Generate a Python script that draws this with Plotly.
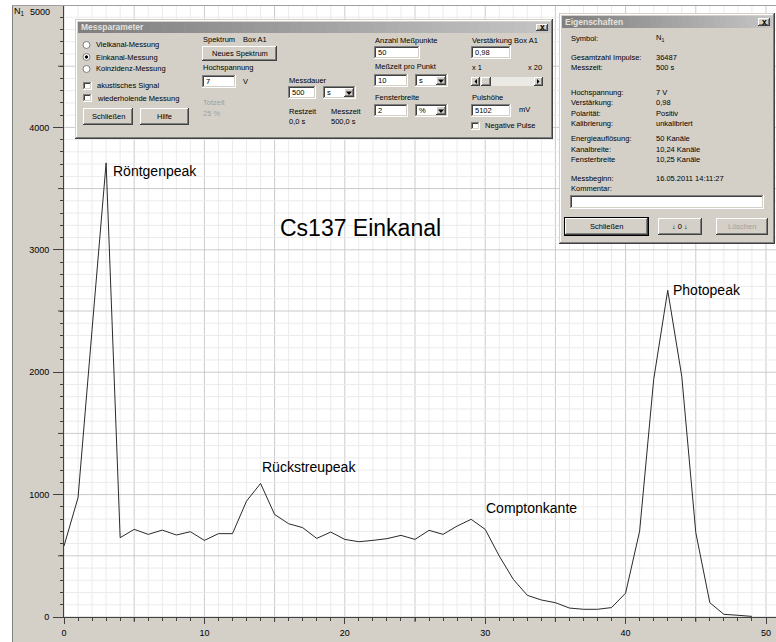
import plotly.graph_objects as go

# ---- measured spectrum (single-channel scan, Cs-137) ----
channel = list(range(50))
counts = [580, 975, 2350, 3710, 648, 716, 675, 710, 670, 697,
          626, 681, 681, 947, 1091, 838, 762, 730, 642, 694,
          634, 615, 626, 640, 667, 634, 708, 675, 743, 798,
          716, 498, 308, 177, 139, 117, 73, 63, 63, 77,
          195, 702, 1940, 2669, 1967, 689, 117, 22, 14, 5]

peak_names = ["Röntgenpeak", "Rückstreupeak", "Comptonkante", "Photopeak"]
peak_channel = [3, 14, 29, 43]
peak_shift = [(6, -8), (0, 16), (14, 11), (4, 0)]

x_labels = list(range(0, 51, 10))
x_mid_ticks = list(range(5, 51, 10))
y_labels = list(range(0, 5000, 1000))
y_mid_ticks = list(range(500, 5001, 1000))
x_grid = list(range(0, 51))
y_grid = list(range(0, 5001, 100))

title_text = "Cs137 Einkanal"

W, H = 776, 642
L, T, PW, PH = 64, 5, 712, 612
UI = "Liberation Sans Narrow, Arial Narrow, Liberation Sans, sans-serif"
FACE = "#d4d0c8"
DS = 7.5  # dialog font size

shapes = []
annotations = []


def fx(x):
    return (x - L) / PW


def fy(y):
    return (T + PH - y) / PH


def R(x0, y0, x1, y1, color):
    shapes.append(dict(type="rect", xref="paper", yref="paper",
                       x0=fx(x0), x1=fx(x1), y0=fy(y1), y1=fy(y0),
                       fillcolor=color, line=dict(width=0), layer="above"))


def tri(pts, color="#000000"):
    d = "M " + " L ".join(f"{fx(a):.5f},{fy(b):.5f}" for a, b in pts) + " Z"
    shapes.append(dict(type="path", xref="paper", yref="paper", path=d,
                       fillcolor=color, line=dict(width=0), layer="above"))


def circ(x0, y0, x1, y1, fill, line="#808080"):
    shapes.append(dict(type="circle", xref="paper", yref="paper",
                       x0=fx(x0), x1=fx(x1), y0=fy(y1), y1=fy(y0),
                       fillcolor=fill, line=dict(width=1, color=line), layer="above"))


def txt(x, y, s, size=DS, color="#000000", anchor="left", bold=False):
    if bold:
        s = "<b>" + s + "</b>"
    annotations.append(dict(x=fx(x), y=fy(y), xref="paper", yref="paper", text=s,
                            showarrow=False, xanchor=anchor, yanchor="middle",
                            borderpad=0, font=dict(family=UI, size=size, color=color)))


def raised(x0, y0, x1, y1, fill=FACE):
    R(x0, y0, x1, y1, "#404040")
    R(x0, y0, x1 - 1, y1 - 1, "#ffffff")
    R(x0 + 1, y0 + 1, x1 - 1, y1 - 1, "#808080")
    R(x0 + 1, y0 + 1, x1 - 2, y1 - 2, fill)


def sunken(x0, y0, x1, y1, fill="#ffffff"):
    R(x0, y0, x1, y1, "#ffffff")
    R(x0, y0, x1 - 1, y1 - 1, "#808080")
    R(x0 + 1, y0 + 1, x1 - 1, y1 - 1, FACE)
    R(x0 + 1, y0 + 1, x1 - 2, y1 - 2, "#404040")
    R(x0 + 2, y0 + 2, x1 - 2, y1 - 2, fill)


def button(x0, y0, x1, y1, label, color="#000000", default=False):
    if default:
        R(x0 - 1, y0 - 1, x1 + 1, y1 + 1, "#000000")
    raised(x0, y0, x1, y1)
    txt((x0 + x1) / 2, (y0 + y1) / 2, label, color=color, anchor="center")


def textbox(x0, y0, x1, y1, value=""):
    sunken(x0, y0, x1, y1)
    if value:
        txt(x0 + 3, (y0 + y1) / 2, value)


def dropdown(x0, y0, x1, y1, value):
    sunken(x0, y0, x1, y1)
    raised(x1 - 12, y0 + 2, x1 - 2, y1 - 2)
    cx, cy = x1 - 7, (y0 + y1) / 2 + 1
    tri([(cx - 3, cy - 2), (cx + 3, cy - 2), (cx, cy + 1.5)])
    txt(x0 + 3, (y0 + y1) / 2, value)


def checkbox(x0, yc, label):
    sunken(x0, yc - 4, x0 + 9, yc + 4)
    txt(x0 + 13, yc, label)


def radio(x0, yc, label, on=False):
    circ(x0, yc - 3.5, x0 + 7, yc + 3.5, "#ffffff")
    if on:
        circ(x0 + 2.3, yc - 1.3, x0 + 4.7, yc + 1.3, "#000000", line="#000000")
    txt(x0 + 12, yc, label)


def window(x0, y0, x1, y1, title, tb_y1):
    R(x0, y0, x1, y1, "#404040")
    R(x0, y0, x1 - 1, y1 - 1, FACE)
    R(x0 + 1, y0 + 1, x1 - 1, y1 - 1, "#808080")
    R(x0 + 1, y0 + 1, x1 - 2, y1 - 2, "#ffffff")
    R(x0 + 2, y0 + 2, x1 - 2, y1 - 2, FACE)
    # inactive caption gradient
    n = 40
    tx0, tx1 = x0 + 3, x1 - 3
    step = (tx1 - tx0) / n
    for i in range(n):
        t = i / (n - 1)
        g = int(128 + t * (196 - 128))
        R(tx0 + i * step, y0 + 3, tx0 + (i + 1) * step + 0.6, tb_y1, f"rgb({g},{g},{g})")
    txt(tx0 + 2, (y0 + 3 + tb_y1) / 2, title, size=8.5, color="#e4e2dc", bold=True)
    # close button
    bx1 = x1 - 5
    raised(bx1 - 12, y0 + 5, bx1, tb_y1 - 2)
    txt(bx1 - 6, (y0 + 5 + tb_y1 - 2) / 2, "<b>x</b>", size=8.5, anchor="center")


# ---- grid: fine lines every channel / 100 counts, stronger every 5 / 500 ----
for c in x_grid:
    shapes.append(dict(type="line", xref="x", yref="paper", x0=c, x1=c, y0=0, y1=1,
                       line=dict(color="#cbcbcb" if c % 5 == 0 else "#ebebeb", width=1),
                       layer="below"))
for v in y_grid:
    shapes.append(dict(type="line", xref="paper", yref="y", x0=0, x1=1, y0=v, y1=v,
                       line=dict(color="#cbcbcb" if v % 500 == 0 else "#ebebeb", width=1),
                       layer="below"))

# ---- frame around the chart ----
R(0, 0, 12, H, "#ffffff")
R(0, 0, W, T, "#ffffff")
R(12, T, 13, H, "#808080")
R(12, T, W, T + 1, "#a0a0a0")

# medium-length ticks at the unlabelled half steps
for v in y_mid_ticks:
    shapes.append(dict(type="line", xref="paper", yref="y", x0=fx(58), x1=fx(64),
                       y0=v, y1=v, line=dict(color="#404040", width=1), layer="above"))
for c in x_mid_ticks:
    shapes.append(dict(type="line", xref="x", yref="paper", x0=c, x1=c,
                       y0=fy(617), y1=fy(622), line=dict(color="#404040", width=1),
                       layer="above"))

# ---- "Messparameter" dialog ----
window(75, 19, 553, 139, "Messparameter", 33)
radio(83, 45, "Vielkanal-Messung")
radio(83, 57, "Einkanal-Messung", on=True)
radio(83, 69, "Koinzidenz-Messung")
checkbox(83, 86, "akustisches Signal")
checkbox(83, 98, "wiederholende Messung")
button(83, 108, 133, 125, "Schließen")
button(140, 108, 189, 125, "Hilfe")
txt(202, 39, "Spektrum")
txt(242, 39, "Box A1")
button(202, 46, 277, 61, "Neues Spektrum")
txt(202, 68, "Hochspannung")
textbox(202, 75, 236, 88, "7")
txt(242, 81, "V")
txt(202, 102, "Totzeit", color="#a0a0a0")
txt(202, 113, "25 %", color="#a0a0a0")
txt(288, 80, "Messdauer")
textbox(288, 86, 316, 99, "500")
dropdown(323, 86, 356, 99, "s")
txt(288, 111, "Restzeit")
txt(288, 121, "0,0 s")
txt(330, 111, "Messzeit")
txt(330, 121, "500,0 s")
txt(374, 40, "Anzahl Meßpunkte")
textbox(374, 46, 420, 59, "50")
txt(374, 67, "Meßzeit pro Punkt")
textbox(374, 74, 408, 87, "10")
dropdown(415, 74, 448, 87, "s")
txt(374, 97, "Fensterbreite")
textbox(374, 104, 408, 117, "2")
dropdown(415, 104, 448, 117, "%")
txt(471, 40, "Verstärkung Box A1")
textbox(471, 46, 511, 59, "0,98")
txt(471, 68, "x 1")
txt(543, 68, "x 20", anchor="right")
# slider
R(471, 77, 543, 86, "#ebe9e4")
raised(471, 77, 480, 86)
tri([(477, 79), (477, 84), (474.5, 81.5)])
raised(481, 77, 491, 86)
raised(534, 77, 543, 86)
tri([(537, 79), (537, 84), (539.5, 81.5)])
txt(471, 97, "Pulshöhe")
textbox(471, 104, 511, 117, "5102")
txt(518, 110, "mV")
checkbox(471, 126, "Negative Pulse")

# ---- "Eigenschaften" dialog ----
window(559, 13, 775, 244, "Eigenschaften", 28)
props = [("Symbol:", "N<sub>1</sub>", 38), ("Gesamtzahl Impulse:", "36487", 57),
         ("Messzeit:", "500 s", 68), ("Hochspannung:", "7 V", 92),
         ("Verstärkung:", "0,98", 103), ("Polarität:", "Positiv", 113),
         ("Kalibrierung:", "unkalibriert", 124), ("Energieauflösung:", "50 Kanäle", 138),
         ("Kanalbreite:", "10,24 Kanäle", 149), ("Fensterbreite", "10,25 Kanäle", 159),
         ("Messbeginn:", "16.05.2011 14:11:27", 178)]
for lab, val, yy in props:
    txt(570, yy, lab)
    txt(655, yy, val)
txt(570, 188, "Kommentar:")
textbox(570, 195, 764, 209)
button(565, 218, 648, 235, "Schließen", default=True)
button(658, 218, 702, 235, "↓ 0 ↓")
button(716, 218, 768, 235, "Löschen", color="#a0a0a0")

# ---- chart labels ----
for name, ch, (dx, dy) in zip(peak_names, peak_channel, peak_shift):
    annotations.append(dict(x=ch, y=counts[ch], xref="x", yref="y", text=name,
                            showarrow=False, xanchor="left", yanchor="middle",
                            xshift=dx, yshift=dy, borderpad=0,
                            font=dict(family=UI, size=14, color="#000000")))
txt(279, 228, title_text, size=23)
txt(13, 12, "N<sub>1</sub>", size=9)
annotations.append(dict(x=fx(51), y=5000, xref="paper", yref="y", text="5000",
                        showarrow=False, xanchor="right", yanchor="middle", yshift=-7,
                        borderpad=0, font=dict(family=UI, size=9, color="#000000")))

fig = go.Figure(go.Scatter(x=channel, y=counts, mode="lines",
                           line=dict(color="#2a2a2a", width=1), hoverinfo="skip"))

fig.update_layout(
    width=W, height=H,
    margin=dict(l=L, r=W - L - PW, t=T, b=H - T - PH, pad=0),
    paper_bgcolor=FACE, plot_bgcolor="#ffffff",
    showlegend=False,
    shapes=shapes, annotations=annotations,
    xaxis=dict(range=[0, PW / 14.04], tickmode="array", tickvals=x_labels,
               ticks="outside", ticklen=6, tickcolor="#404040",
               showgrid=False, zeroline=False,
               showline=True, linecolor="#404040", linewidth=1, automargin=False,
               tickfont=dict(family=UI, size=9, color="#000000"), ticklabelstandoff=1,
               minor=dict(tickmode="linear", tick0=0, dtick=1, ticks="outside", ticklen=3,
                          tickcolor="#404040", showgrid=False)),
    yaxis=dict(range=[0, 5000], tickmode="array", tickvals=y_labels,
               ticks="outside", ticklen=10, tickcolor="#404040",
               showgrid=False, zeroline=False,
               showline=True, linecolor="#404040", linewidth=1, automargin=False,
               tickfont=dict(family=UI, size=9, color="#000000"), ticklabelstandoff=2,
               minor=dict(tickmode="linear", tick0=0, dtick=100, ticks="outside", ticklen=3,
                          tickcolor="#404040", showgrid=False)),
)

fig.write_html("out.html")
